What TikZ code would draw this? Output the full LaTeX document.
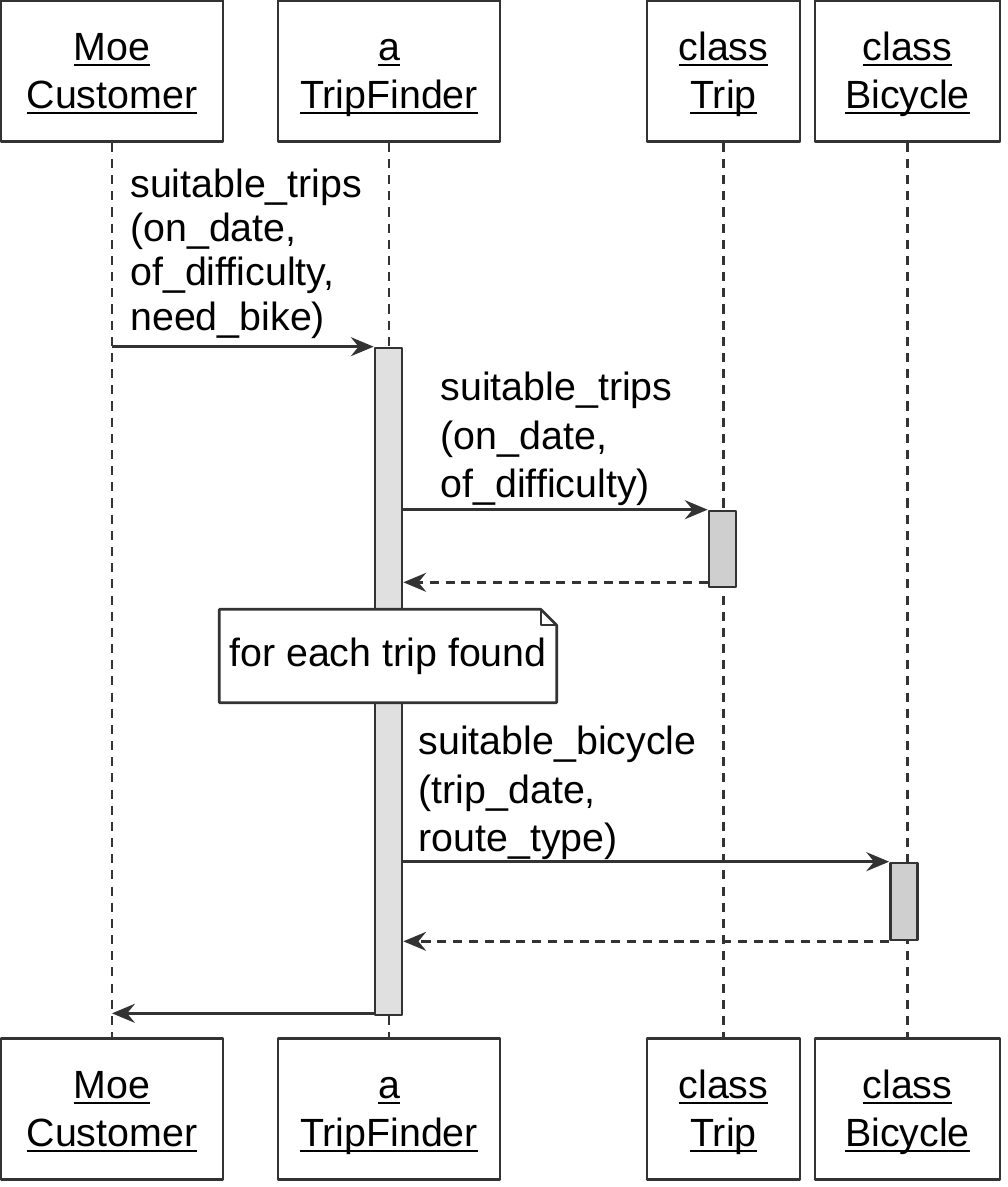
\documentclass[tikz,border=0pt]{standalone}
\usepackage{fontspec}
\setmainfont{Liberation Sans}
\usetikzlibrary{arrows.meta}
\newcommand{\ulname}[1]{\setbox0\hbox{#1}\raisebox{-1.1pt}[0pt][0pt]{\rlap{\rule[-1.6pt]{\wd0}{0.5pt}}\copy0}\vphantom{Tp}}
\begin{document}
\begin{tikzpicture}[font=\fontsize{11.2}{13.7}\selectfont, line join=round, >={Stealth[length=6.5pt,width=5.4pt,inset=2.2pt]},
	obj/.style={draw=black!80, line width=0.75pt, align=center, minimum height=1.41cm, inner sep=0pt},
	life/.style={draw=black!80, line width=0.6pt, dash pattern=on 2.6pt off 2pt},
	act/.style={draw=black!80, line width=0.75pt, minimum width=0.27cm, inner sep=0pt},
	msg/.style={->, draw=black!80, line width=0.75pt},
	ret/.style={msg, dash pattern=on 2.6pt off 1.9pt},
	lbl/.style={align=left, inner sep=0pt, anchor=south west}]
	\useasboundingbox (0,0) rectangle (10.08,-11.87);
	% objects, top and bottom
	\node[obj, minimum width=2.22cm] (cust) at (1.12,-0.71) {\ulname{Moe}\\\ulname{Customer}};
	\node[obj, minimum width=2.22cm] (tf) at (3.89,-0.71) {\ulname{a}\\\ulname{TripFinder}};
	\node[obj, minimum width=1.53cm] (trip) at (7.235,-0.71) {\ulname{class}\\\ulname{Trip}};
	\node[obj, minimum width=1.85cm] (bike) at (9.075,-0.71) {\ulname{class}\\\ulname{Bicycle}};
	\node[obj, minimum width=2.22cm] (cust2) at (1.12,-11.09) {\ulname{Moe}\\\ulname{Customer}};
	\node[obj, minimum width=2.22cm] (tf2) at (3.89,-11.09) {\ulname{a}\\\ulname{TripFinder}};
	\node[obj, minimum width=1.53cm] (trip2) at (7.235,-11.09) {\ulname{class}\\\ulname{Trip}};
	\node[obj, minimum width=1.85cm] (bike2) at (9.075,-11.09) {\ulname{class}\\\ulname{Bicycle}};
	\foreach \o in {cust,tf,trip,bike}
		\draw[life] (\o) -- (\o2);%lifelines
	% activations
	\node[act, fill=black!12, minimum height=6.67cm] (tfact) at (3.885,-6.815) {};
	\node[act, fill=black!19, minimum height=0.76cm] (tripact) at (7.225,-5.49) {};
	\node[act, fill=black!19, minimum height=0.77cm] (bikeact) at (9.04,-9.015) {};
	% messages
	\draw[msg] (cust |- tfact.north) -- (tfact.north west)
		node[lbl, pos=0, xshift=0.17cm, yshift=0.07cm, font=\fontsize{11.2}{12.6}\selectfont]{suitable\_trips\\(on\_date,\\of\_difficulty,\\need\_bike)};
	\draw[msg] (tfact.east |- tripact.north) -- (tripact.north west)
		node[lbl, pos=0, xshift=0.36cm, yshift=0.03cm]{suitable\_trips\\(on\_date,\\of\_difficulty)};
	\coordinate (r1) at ([yshift=0.06cm]tripact.south west);
	\draw[ret] (r1) -- (tfact.east |- r1);
	\draw[msg] (tfact.east |- bikeact.north) -- (bikeact.north west)
		node[lbl, pos=0, xshift=0.14cm, yshift=0.01cm]{suitable\_bicycle\\(trip\_date,\\route\_type)};
	\draw[ret] (bikeact.south west) -- (tfact.east |- bikeact.south west);
	\coordinate (r3) at ([yshift=0.03cm]tfact.south west);
	\draw[msg] (r3) -- (cust |- r3);
	% note
	\node[fill=white, minimum width=3.36cm, minimum height=0.92cm, inner sep=0pt] (note) at (3.88,-6.56) {for each trip found};
	\draw[draw=black!80, line width=0.75pt] (note.north west) -- ([xshift=-0.16cm]note.north east) -- ([yshift=-0.16cm]note.north east) -- (note.south east) -- (note.south west) -- cycle;
	\draw[draw=black!80, line width=0.6pt] ([xshift=-0.16cm]note.north east) |- ([yshift=-0.16cm]note.north east);%fold
\end{tikzpicture}
\end{document}
